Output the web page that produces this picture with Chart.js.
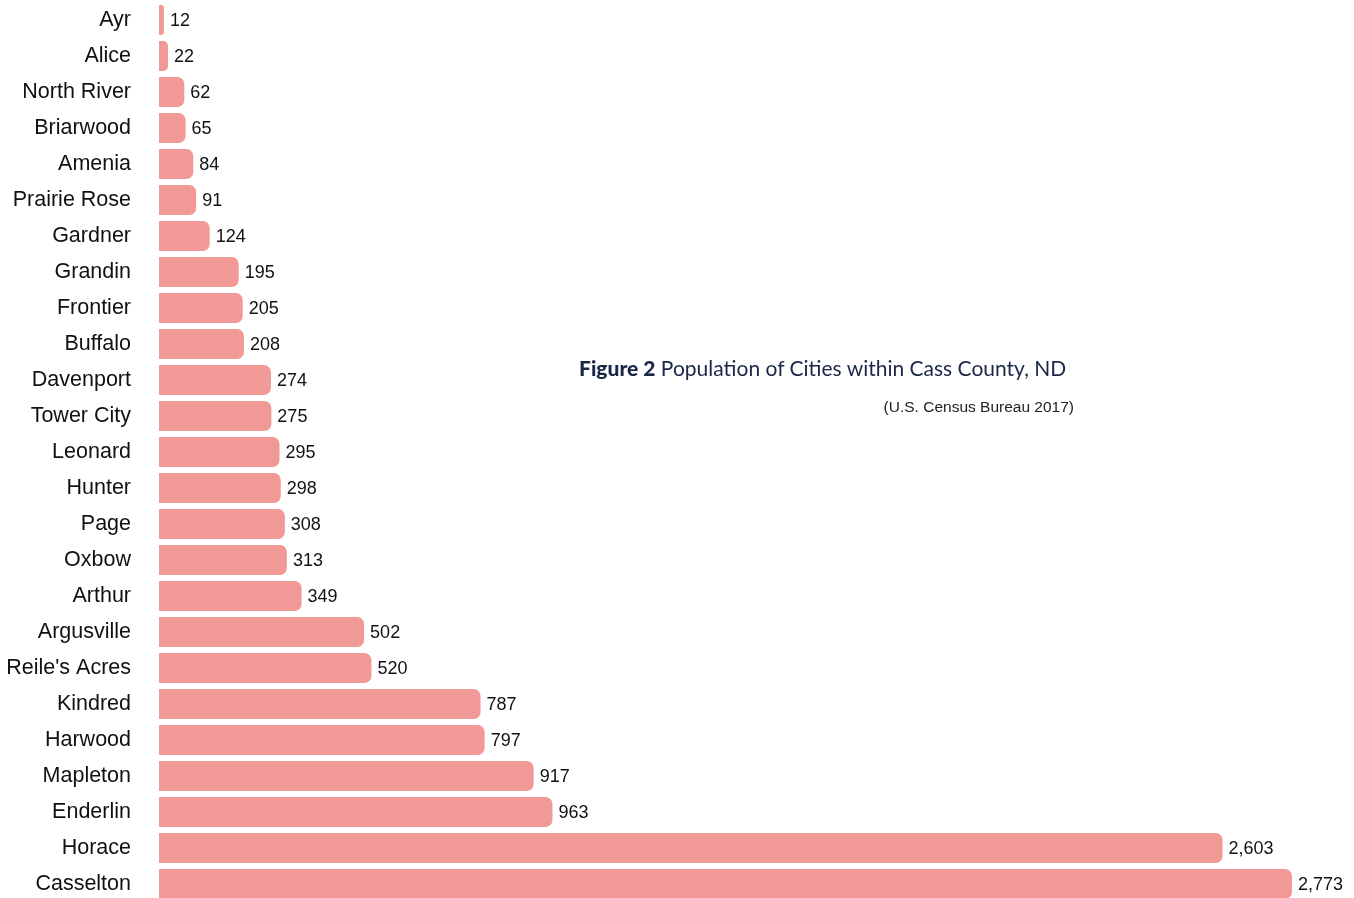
<!DOCTYPE html>
<html>
<head>
<meta charset="utf-8">
<script src="https://cdn.jsdelivr.net/npm/chart.js@4"></script>
<style>
  html, body { margin: 0; padding: 0; background: #fff; overflow: hidden; }
  #wrap { position: relative; width: 1354px; height: 904px; }
  #title { position: absolute; left: 579px; top: 355px; font-family: "Lato", sans-serif; font-size: 21px; color: #1b2748; white-space: nowrap; }
  #title b { font-weight: 900; }
  #source { position: absolute; right: 280px; top: 398px; font-family: "Liberation Sans", Arial, sans-serif; font-size: 15.5px; color: #222; }
</style>
</head>
<body>
<div id="wrap">
  <canvas id="myChart" width="1354" height="904"></canvas>
  <div id="title"><b>Figure 2</b> Population of Cities within Cass County, ND</div>
  <div id="source">(U.S. Census Bureau 2017)</div>
</div>
<script>
const cities = ['Ayr', 'Alice', 'North River', 'Briarwood', 'Amenia', 'Prairie Rose', 'Gardner', 'Grandin',
  'Frontier', 'Buffalo', 'Davenport', 'Tower City', 'Leonard', 'Hunter', 'Page', 'Oxbow', 'Arthur',
  'Argusville', "Reile's Acres", 'Kindred', 'Harwood', 'Mapleton', 'Enderlin', 'Horace', 'Casselton'];
const population = [12, 22, 62, 65, 84, 91, 124, 195, 205, 208, 274, 275, 295, 298, 308, 313, 349,
  502, 520, 787, 797, 917, 963, 2603, 2773];

// value labels at the end of each bar
const barLabels = {
  id: 'barLabels',
  afterDatasetsDraw(chart) {
    const c = chart.ctx;
    c.save();
    c.font = '18px "Liberation Sans", Arial, sans-serif';
    c.fillStyle = '#111';
    c.textBaseline = 'middle';
    chart.getDatasetMeta(0).data.forEach((bar, i) => {
      c.fillText(population[i].toLocaleString('en-US'), bar.x + 6, bar.y + 1);
    });
    c.restore();
  }
};

const ctx = document.getElementById('myChart');
const myChart = new Chart(ctx, {
  type: 'bar',
  data: {
    labels: cities,
    datasets: [{
      label: 'Population',
      data: population,
      backgroundColor: '#f19996',
      borderRadius: { topRight: 7, bottomRight: 7 },
      borderSkipped: false,
      categoryPercentage: 1,
      barPercentage: 0.83
    }]
  },
  plugins: [barLabels],
  options: {
    indexAxis: 'y',
    responsive: false,
    animation: false,
    layout: { padding: { top: 2, right: 62, left: 0, bottom: 2 } },
    scales: {
      x: {
        display: false,
        min: 0,
        max: 2773
      },
      y: {
        grid: { display: false, drawTicks: false },
        border: { display: false },
        afterFit(scale) {
          // tick padding should only push labels sideways, not shrink the plot vertically
          scale.paddingTop = 0;
          scale.paddingBottom = 0;
          scale.width = 159;
        },
        ticks: {
          color: '#111',
          padding: 28,
          autoSkip: false,
          font: { family: '"Liberation Sans", Arial, sans-serif', size: 21.5 }
        }
      }
    },
    plugins: {
      legend: { display: false },
      tooltip: { enabled: false }
    }
  }
});
</script>
</body>
</html>
